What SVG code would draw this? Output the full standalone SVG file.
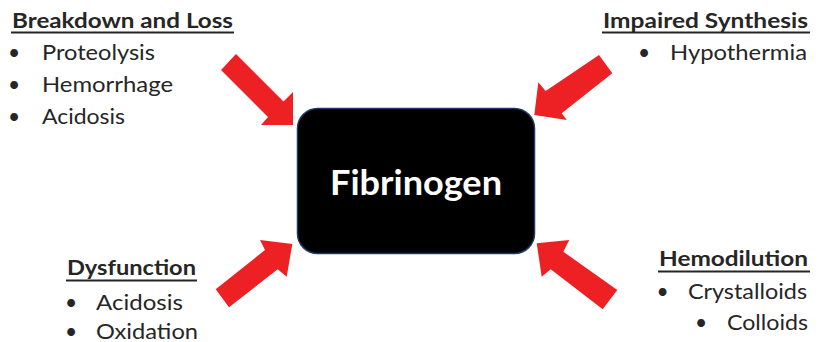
<svg xmlns="http://www.w3.org/2000/svg" width="819" height="342" viewBox="0 0 819 342">
  <style>
    .hd { font-family: Lato, "Liberation Sans", sans-serif; font-weight: bold; font-size: 21px; fill: #262626; }
    .it { font-family: Lato, "Liberation Sans", sans-serif; font-size: 21px; fill: #262626; }
    .ul { stroke: #262626; stroke-width: 2; }
    .arrow { fill: #ED2124; }
    .box { fill: #000000; stroke: #1F3864; stroke-width: 1.5; }
    .center { font-family: Lato, "Liberation Sans", sans-serif; font-weight: bold; font-size: 35px; fill: #FFFFFF; }
  </style>

  <!-- central node -->
  <g id="fibrinogen">
    <rect class="box" x="297.5" y="108.5" width="237" height="145" rx="20" ry="20"/>
    <text class="center" x="416" y="195" text-anchor="middle" textLength="172" lengthAdjust="spacingAndGlyphs">Fibrinogen</text>
  </g>

  <!-- cause groups -->
  <g id="breakdown-loss">
    <text class="hd" x="12" y="27.5" textLength="221" lengthAdjust="spacingAndGlyphs">Breakdown and Loss</text>
    <line class="ul" x1="11" y1="32.5" x2="234" y2="32.5"/>
    <text class="it" x="8" y="59.5">•</text>
    <text class="it" x="42" y="59.5" textLength="113" lengthAdjust="spacingAndGlyphs">Proteolysis</text>
    <text class="it" x="8" y="91.5">•</text>
    <text class="it" x="42" y="91.5" textLength="131" lengthAdjust="spacingAndGlyphs">Hemorrhage</text>
    <text class="it" x="8" y="123.5">•</text>
    <text class="it" x="42" y="123.5" textLength="83" lengthAdjust="spacingAndGlyphs">Acidosis</text>
  </g>

  <g id="impaired-synthesis">
    <text class="hd" x="808" y="27.5" text-anchor="end" textLength="205" lengthAdjust="spacingAndGlyphs">Impaired Synthesis</text>
    <line class="ul" x1="602" y1="32.5" x2="810" y2="32.5"/>
    <text class="it" x="638" y="60">•</text>
    <text class="it" x="807" y="60" text-anchor="end" textLength="137" lengthAdjust="spacingAndGlyphs">Hypothermia</text>
  </g>

  <g id="dysfunction">
    <text class="hd" x="67" y="275" textLength="129" lengthAdjust="spacingAndGlyphs">Dysfunction</text>
    <line class="ul" x1="66" y1="280.5" x2="197" y2="280.5"/>
    <text class="it" x="65" y="309.5">•</text>
    <text class="it" x="96" y="309.5" textLength="87" lengthAdjust="spacingAndGlyphs">Acidosis</text>
    <text class="it" x="65" y="338.5">•</text>
    <text class="it" x="96" y="338.5" textLength="102" lengthAdjust="spacingAndGlyphs">Oxidation</text>
  </g>

  <g id="hemodilution">
    <text class="hd" x="808" y="266" text-anchor="end" textLength="149" lengthAdjust="spacingAndGlyphs">Hemodilution</text>
    <line class="ul" x1="658" y1="271.5" x2="810" y2="271.5"/>
    <text class="it" x="656.5" y="298.5">•</text>
    <text class="it" x="807" y="298.5" text-anchor="end" textLength="119" lengthAdjust="spacingAndGlyphs">Crystalloids</text>
    <text class="it" x="695" y="330">•</text>
    <text class="it" x="808" y="330" text-anchor="end" textLength="81" lengthAdjust="spacingAndGlyphs">Colloids</text>
  </g>

  <!-- block arrows pointing at the central node -->
  <g id="connectors">
    <polygon class="arrow" points="221,70 236,54 283.5,101.5 293,92 293,125 261,125 268,117"/>
    <polygon class="arrow" points="599,55 612.3,73.3 561.7,113.3 566.7,120 534.3,115 538.3,82.3 545.7,91"/>
    <polygon class="arrow" points="215.7,289.3 229,307.3 277.7,269.3 286.7,276.7 292.3,244 260,240 265,250"/>
    <polygon class="arrow" points="617.3,290 602.7,309.3 550.7,269.3 541.7,276.7 536.7,243.3 569.3,240 563.3,251.7"/>
  </g>
</svg>
